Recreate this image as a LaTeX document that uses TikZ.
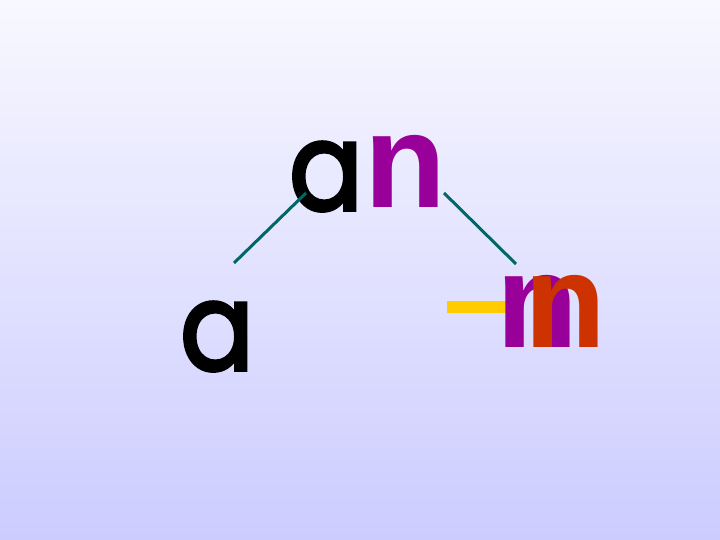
\documentclass[tikz,border=0pt]{standalone}
\usepackage{fontspec}
\newfontfamily\afont{Poppins}[FakeBold=3]
\newfontfamily\nfont{Liberation Sans}
\definecolor{bgtop}{RGB}{248,248,255}
\definecolor{bgbot}{RGB}{204,204,255}
\definecolor{teal2}{RGB}{0,102,102}
\definecolor{purp}{RGB}{153,0,153}
\definecolor{orng}{RGB}{204,51,0}
\definecolor{yell}{RGB}{255,204,0}
\newcommand{\narrowa}{\scalebox{0.9}[1]{a}}
\begin{document}
\begin{tikzpicture}[x=1pt,y=1pt,
  letter/.style={inner sep=0pt,outer sep=0pt,anchor=base west},
  alet/.style={letter,font=\afont\fontsize{122}{122}\selectfont},
  nlet/.style={letter,font=\nfont\bfseries\fontsize{134}{134}\selectfont},
  conn/.style={draw=teal2,line width=3pt}]
\shade[top color=bgtop,bottom color=bgbot] (0,0) rectangle (720,540);
\useasboundingbox (0,0) rectangle (720,540);
\node[alet] (a1) at (289,540-210) {\narrowa};
\node[nlet,text=purp] (n1) at (364,540-208) {n};
\node[alet] (a2) at (180,540-370) {\narrowa};
\node[fill=yell,minimum width=59pt,minimum height=12pt,inner sep=0pt] (dash) at (476.5,540-307) {};
\node[nlet,text=purp] (n2) at (496,540-348) {n};
\node[nlet,text=orng] (n3) at (524,540-348) {n};
\coordinate (c1) at (234,540-263);
\coordinate (c2) at (306,540-193);
\coordinate (c3) at (444,540-193);
\coordinate (c4) at (516,540-264);
\draw[conn] (c1) -- (c2);
\draw[conn] (c3) -- (c4);
\end{tikzpicture}
\end{document}
